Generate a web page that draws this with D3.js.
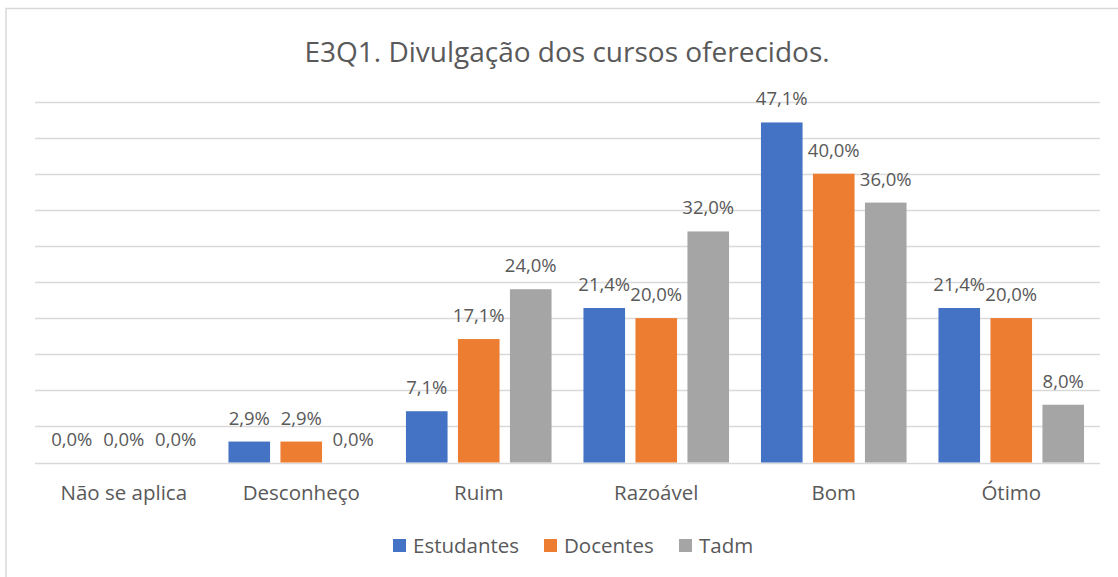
<!DOCTYPE html>
<html>
<head>
<meta charset="utf-8">
<script src="https://cdn.jsdelivr.net/npm/d3@7"></script>
<style>
  body { margin: 0; background: #fff; }
  svg { display: block; font-family: "Open Sans", sans-serif; }
</style>
</head>
<body>
<svg id="chart" width="1118" height="577"></svg>
<script>
const categories = ["Não se aplica", "Desconheço", "Ruim", "Razoável", "Bom", "Ótimo"];
const seriesNames = ["Estudantes", "Docentes", "Tadm"];
const estudantes = [0.0, 2.9, 7.1, 21.4, 47.1, 21.4];
const docentes = [0.0, 2.9, 17.1, 20.0, 40.0, 20.0];
const tadm = [0.0, 0.0, 24.0, 32.0, 36.0, 8.0];
const colors = ["#4472C4", "#ED7D31", "#A5A5A5"];
const title = "E3Q1. Divulgação dos cursos oferecidos.";

const seriesValues = [estudantes, docentes, tadm];
const data = categories.map((c, i) => ({
    category: c,
    values: seriesNames.map((s, j) => ({ series: s, value: seriesValues[j][i] }))
}));

const svg = d3.select("#chart");
const textColor = "#595959";

// chart frame
svg.append("rect")
    .attr("x", 6).attr("y", 8.5)
    .attr("width", 1200).attr("height", 700)
    .attr("fill", "#fff")
    .attr("stroke", "#D9D9D9")
    .attr("stroke-width", 1.5);

// title
svg.append("text")
    .attr("x", 567).attr("y", 62)
    .attr("text-anchor", "middle")
    .attr("fill", textColor)
    .style("font-size", "28px")
    .text(title);

// scales
const x0 = d3.scaleBand()
    .domain(categories)
    .range([35, 1100])
    .paddingInner(0);

const x1 = d3.scaleBand()
    .domain(seriesNames)
    .range([0, x0.bandwidth()])
    .paddingInner(0.2)
    .paddingOuter(0.307);

const y = d3.scaleLinear()
    .domain([0, 50])
    .range([462.5, 101.5]);

const color = d3.scaleOrdinal().domain(seriesNames).range(colors);

// gridlines
svg.append("g")
    .selectAll("line")
    .data(y.ticks(10))
    .enter()
    .append("line")
    .attr("x1", 35).attr("x2", 1100)
    .attr("y1", d => Math.round(y(d)) + 0.5)
    .attr("y2", d => Math.round(y(d)) + 0.5)
    .attr("stroke", "#D9D9D9")
    .attr("stroke-width", 1.5);

// bars
const groups = svg.append("g")
    .selectAll("g")
    .data(data)
    .enter()
    .append("g")
    .attr("transform", d => `translate(${x0(d.category)},0)`);

groups.selectAll("rect")
    .data(d => d.values)
    .enter()
    .append("rect")
    .attr("x", d => x1(d.series))
    .attr("y", d => y(d.value))
    .attr("width", x1.bandwidth())
    .attr("height", d => y(0) - y(d.value))
    .attr("fill", d => color(d.series));

// value labels
const fmt = v => v.toFixed(1).replace(".", ",") + "%";
groups.selectAll("text")
    .data(d => d.values)
    .enter()
    .append("text")
    .attr("x", d => x1(d.series) + x1.bandwidth() / 2)
    .attr("y", d => y(d.value) - 17)
    .attr("text-anchor", "middle")
    .attr("fill", textColor)
    .style("font-size", "18.5px")
    .text(d => fmt(d.value));

// category labels
svg.append("g")
    .selectAll("text")
    .data(categories)
    .enter()
    .append("text")
    .attr("x", d => x0(d) + x0.bandwidth() / 2)
    .attr("y", 500)
    .attr("text-anchor", "middle")
    .attr("fill", textColor)
    .style("font-size", "20.5px")
    .text(d => d);

// legend
const legendX = [393, 544, 679];
const legend = svg.append("g")
    .selectAll("g")
    .data(seriesNames)
    .enter()
    .append("g")
    .attr("transform", (d, i) => `translate(${legendX[i]},539)`);

legend.append("rect")
    .attr("width", 13).attr("height", 13)
    .attr("fill", d => color(d));

legend.append("text")
    .attr("x", 20).attr("y", 14)
    .attr("fill", textColor)
    .style("font-size", "20.5px")
    .text(d => d);
</script>
</body>
</html>
